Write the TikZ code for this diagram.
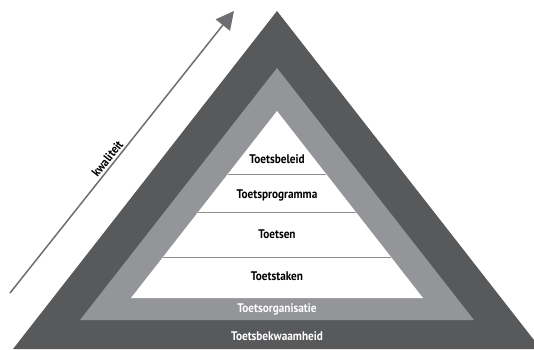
\documentclass[tikz,border=0pt]{standalone}
\usepackage{fontspec}
\setmainfont[FakeStretch=0.9]{PT Sans}
\usetikzlibrary{arrows.meta}
\definecolor{Graphite}{HTML}{58595B}
\definecolor{Pewter}{HTML}{939598}
\definecolor{Slate}{HTML}{6D6E71}
\definecolor{RuleGray}{HTML}{8E8E8E}

\begin{document}
\begin{tikzpicture}[
    x=1pt, y=-1pt,
    every node/.style={font=\fontsize{12.5}{14}\selectfont\bfseries, inner sep=0pt},
    layer/.style={text=black},
    band/.style={text=white},
    divider/.style={RuleGray, line width=0.9pt},
    arr/.style={-{Triangle[length=18pt, width=18pt]}, Slate, line width=1.5pt},
]
\useasboundingbox (0,0) rectangle (534,349);
\clip (0,0) rectangle (534,349);

% === Triangles ===
\fill[Graphite] (277,11) -- (541,349) -- (13,349) -- cycle;
\fill[Pewter] (277,68) -- (474,320) -- (80,320) -- cycle;
\fill[white] (277,111) -- (423,298) -- (131,298) -- cycle;

% === Dividers in the white triangle ===
\coordinate (d1l) at (228,174); \coordinate (d1r) at (326,174);
\coordinate (d2l) at (198,212); \coordinate (d2r) at (356,212);
\coordinate (d3l) at (163,257); \coordinate (d3r) at (391,257);
\draw[divider] (d1l) -- (d1r);
\draw[divider] (d2l) -- (d2r);
\draw[divider] (d3l) -- (d3r);

% === Layer labels ===
\node[layer] (beleid) at (277,159) {Toetsbeleid};
\node[layer] (programma) at (277,195) {Toetsprogramma};
\node[layer] (toetsen) at (277,234) {Toetsen};
\node[layer] (taken) at (277,276) {Toetstaken};
\node[band] (organisatie) at (277,309) {Toetsorganisatie};
\node[band] (bekwaamheid) at (277,336) {Toetsbekwaamheid};

% === Quality arrow ===
\coordinate (qlow) at (10,293);
\coordinate (qhigh) at (234,11);
\draw[arr] (qlow) -- (qhigh)
    node[pos=0.46, sloped, above=2pt, text=black] (kwaliteit) {kwaliteit};

\end{tikzpicture}
\end{document}
